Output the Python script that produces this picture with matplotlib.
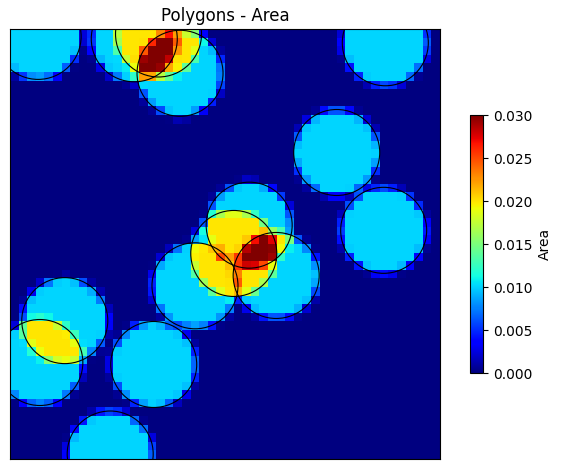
import numpy as np
import matplotlib
matplotlib.use("Agg")
import matplotlib.pyplot as plt
from matplotlib.patches import Circle

# Circle polygon centres (data units), common radius
cx = [0.327, 1.445, 1.727, 1.977, 4.364, 3.799, 4.345, 2.781, 2.602, 2.151, 3.095, 0.637, 0.347, 1.671, 1.165]
cy = [4.914, 4.886, 4.942, 4.485, 4.840, 3.564, 2.659, 2.719, 2.390, 2.014, 2.134, 1.609, 1.122, 1.099, 0.058]
radius = 0.5

# Grid definition
ncells = 50
extent = 5.0
vmin, vmax = 0.0, 0.03

cell = extent / ncells
sub = 20
edges = np.linspace(0, extent, ncells + 1)
# sub-sample points for area estimation
offs = (np.arange(sub) + 0.5) / sub * cell
px = (edges[:-1][:, None] + offs[None, :]).ravel()
X, Y = np.meshgrid(px, px)
inside = np.zeros_like(X)
for x0, y0 in zip(cx, cy):
    inside += ((X - x0) ** 2 + (Y - y0) ** 2 <= radius ** 2)
area = inside.reshape(ncells, sub, ncells, sub).mean(axis=(1, 3)) * cell * cell

fig = plt.figure(figsize=(5.61, 4.69), dpi=100)
ax = fig.add_axes([10 / 561, 10 / 469, 430 / 561, 430 / 469])
mesh = ax.pcolormesh(edges, edges, area, cmap="jet", vmin=vmin, vmax=vmax)
for x0, y0 in zip(cx, cy):
    ax.add_patch(Circle((x0, y0), radius, facecolor="none", edgecolor="black", linewidth=0.8))
ax.set_xlim(0, extent)
ax.set_ylim(0, extent)
ax.set_aspect("equal")
ax.set_xticks([])
ax.set_yticks([])
ax.set_title("Polygons - Area", fontsize=12)

cax = fig.add_axes([470 / 561, 96 / 469, 13 / 561, 258 / 469])
cb = fig.colorbar(mesh, cax=cax)
cb.set_ticks([0.0, 0.005, 0.01, 0.015, 0.02, 0.025, 0.03])
cb.set_ticklabels(["0.000", "0.005", "0.010", "0.015", "0.020", "0.025", "0.030"])
cb.set_label("Area")

fig.savefig("out.png", dpi=100)
